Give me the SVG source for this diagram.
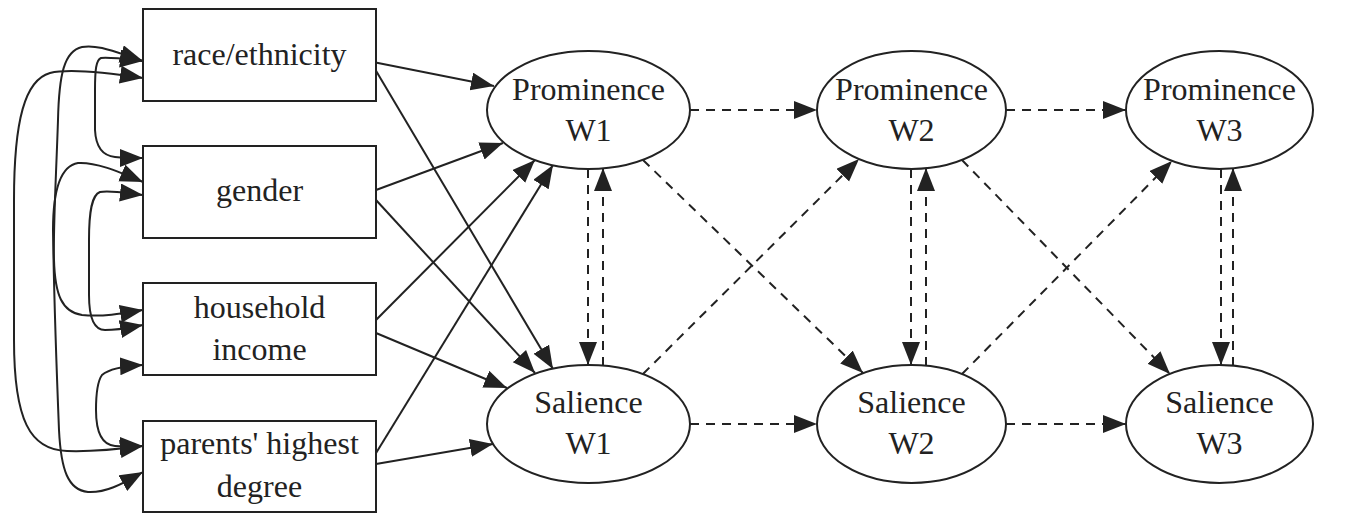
<svg xmlns="http://www.w3.org/2000/svg" width="1360" height="514" viewBox="0 0 1360 514">
<style>
.box{fill:#fff;stroke:#222;stroke-width:2}
.ell{fill:#fff;stroke:#222;stroke-width:2}
.t{font-family:'Liberation Serif','Times New Roman','DejaVu Serif',serif;font-size:32px;fill:#222;text-anchor:middle}
.e{fill:none;stroke:#222;stroke-width:2}
.s{marker-end:url(#ah)}
.d{stroke-dasharray:9,7}
.cv{fill:none;stroke:#222;stroke-width:2;marker-start:url(#ah2);marker-end:url(#ah)}
</style>
<defs>
<marker id="ah" markerUnits="userSpaceOnUse" markerWidth="26" markerHeight="20" refX="23" refY="9" orient="auto">
<path d="M0,0 L23,9 L0,18 z" fill="#222"/>
</marker>
<marker id="ah2" markerUnits="userSpaceOnUse" markerWidth="26" markerHeight="20" refX="23" refY="9" orient="auto-start-reverse">
<path d="M0,0 L23,9 L0,18 z" fill="#222"/>
</marker>
</defs>
<rect width="1360" height="514" fill="#fff"/>
<g id="connectors">
<path class="cv" d="M143,61 C115,52 97,44 82,47 C64,51 59,75 58,120 C56,180 53,230 54,260 C55,295 62,312 82,315 C105,317 125,313 143,310"/>
<path class="cv" d="M143,182 C115,170 95,162 78,163 C60,166 53,190 53,230 C54,300 57,380 59,430 C61,470 68,490 88,492 C108,493 125,482 143,472"/>
<path class="cv" d="M143,78 C110,73 70,68 50,73 C25,80 14,120 14,200 L14,340 C14,420 30,450 67,451 C95,452 120,449 143,446"/>
<path class="cv" d="M143,61 C125,59 110,57 101,58 C96,60 95,70 95,90 L95,130 C96,150 105,156 115,157 C125,158 135,158 143,158"/>
<path class="cv" d="M143,195 C125,193 110,190 100,192 C92,195 89,210 89,240 L89,295 C89,320 95,330 105,330 C120,330 132,327 143,325"/>
<path class="cv" d="M143,365 C125,366 110,368 102,375 C97,382 96,395 96,410 C96,435 103,445 115,446 C125,447 135,446 143,446"/>
<line class="e s" x1="373" y1="62" x2="494" y2="86"/>
<line class="e s" x1="376" y1="190" x2="503" y2="143"/>
<line class="e s" x1="376" y1="320" x2="535" y2="160"/>
<line class="e s" x1="373" y1="458" x2="553" y2="165"/>
<line class="e s" x1="372" y1="64" x2="553" y2="369"/>
<line class="e s" x1="376" y1="200" x2="535" y2="373"/>
<line class="e s" x1="376" y1="333" x2="507" y2="388"/>
<line class="e s" x1="376" y1="464" x2="493" y2="444"/>
<line class="e s d" x1="690" y1="110" x2="817" y2="110"/>
<line class="e s d" x1="1006" y1="110" x2="1126" y2="110"/>
<line class="e s d" x1="690" y1="424" x2="817" y2="424"/>
<line class="e s d" x1="1006" y1="424" x2="1126" y2="424"/>
<line class="e s d" x1="588" y1="169" x2="588" y2="365"/>
<line class="e s d" x1="603" y1="366" x2="603" y2="168"/>
<line class="e s d" x1="911" y1="169" x2="911" y2="365"/>
<line class="e s d" x1="926" y1="366" x2="926" y2="168"/>
<line class="e s d" x1="1221" y1="169" x2="1221" y2="365"/>
<line class="e s d" x1="1233" y1="366" x2="1233" y2="168"/>
<line class="e s d" x1="643" y1="160" x2="863" y2="373"/>
<line class="e s d" x1="643" y1="374" x2="859" y2="159"/>
<line class="e s d" x1="962" y1="160" x2="1170" y2="374"/>
<line class="e s d" x1="962" y1="374" x2="1172" y2="161"/>
</g>
<g id="race"><rect class="box" x="143" y="9" width="233" height="92"/><text class="t" x="259.5" y="65">race/ethnicity</text></g>
<g id="gender"><rect class="box" x="143" y="146" width="233" height="92"/><text class="t" x="259.5" y="201">gender</text></g>
<g id="income"><rect class="box" x="143" y="283" width="233" height="92"/><text class="t" x="259.5" y="318">household</text><text class="t" x="259.5" y="360">income</text></g>
<g id="parents"><rect class="box" x="143" y="421" width="233" height="91"/><text class="t" x="259.5" y="454">parents' highest</text><text class="t" x="259.5" y="497">degree</text></g>
<g id="prom1"><ellipse class="ell" cx="588.5" cy="110" rx="101.5" ry="59"/><text class="t" x="588.5" y="100">Prominence</text><text class="t" x="588.5" y="141">W1</text></g>
<g id="sal1"><ellipse class="ell" cx="588.5" cy="424" rx="101.5" ry="59"/><text class="t" x="588.5" y="413">Salience</text><text class="t" x="588.5" y="454">W1</text></g>
<g id="prom2"><ellipse class="ell" cx="911.5" cy="110" rx="94.5" ry="59"/><text class="t" x="911.5" y="100">Prominence</text><text class="t" x="911.5" y="141">W2</text></g>
<g id="sal2"><ellipse class="ell" cx="911.5" cy="424" rx="94.5" ry="59"/><text class="t" x="911.5" y="413">Salience</text><text class="t" x="911.5" y="454">W2</text></g>
<g id="prom3"><ellipse class="ell" cx="1219.5" cy="110" rx="93.5" ry="59"/><text class="t" x="1219.5" y="100">Prominence</text><text class="t" x="1219.5" y="141">W3</text></g>
<g id="sal3"><ellipse class="ell" cx="1219.5" cy="424" rx="93.5" ry="59"/><text class="t" x="1219.5" y="413">Salience</text><text class="t" x="1219.5" y="454">W3</text></g>
</svg>
